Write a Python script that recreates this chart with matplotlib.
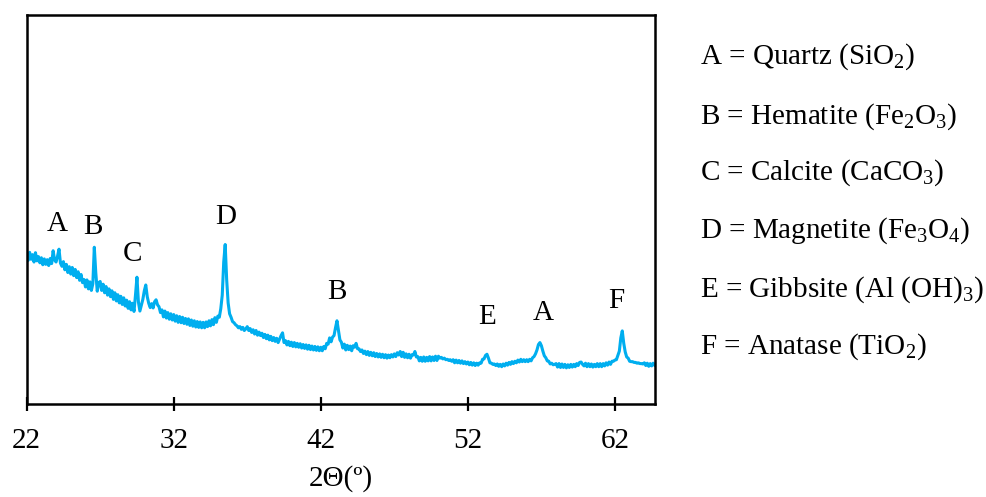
import numpy as np
import matplotlib
matplotlib.use("Agg")
import matplotlib.pyplot as plt

plt.rcParams['font.family'] = ['Liberation Serif', 'DejaVu Serif']
plt.rcParams['mathtext.fontset'] = 'custom'
plt.rcParams['mathtext.rm'] = 'Liberation Serif'
plt.rcParams['mathtext.it'] = 'Liberation Serif'

# 2-theta grid start / step (degrees) and intensity readings (a.u.), one row per degree
two_theta_start = 22.0
two_theta_step = 0.1
intensity = [
    38.8, 36.9, 39.0, 37.2, 38.4, 36.5, 38.9, 36.8, 37.9, 36.3,   # 22
    37.6, 35.8, 37.3, 35.9, 37.1, 35.6, 37.4, 36.1, 39.4, 37.0,   # 23
    36.5, 38.0, 39.8, 36.2, 35.4, 36.6, 34.5, 35.9, 33.8, 35.3,   # 24
    33.4, 35.1, 33.0, 34.6, 32.5, 34.0, 31.8, 33.3, 31.2, 32.0,   # 25
    30.1, 31.9, 29.6, 31.4, 29.2, 30.9, 40.3, 33.8, 29.0, 31.2,   # 26
    31.5, 29.2, 30.8, 28.6, 30.2, 28.0, 29.6, 27.6, 29.1, 26.9,   # 27
    28.6, 26.5, 28.1, 26.0, 27.7, 25.6, 27.3, 25.2, 26.7, 24.6,   # 28
    26.3, 24.2, 25.9, 23.8, 28.0, 32.6, 26.2, 23.9, 25.4, 26.9,   # 29
    29.1, 30.6, 27.6, 25.9, 24.8, 25.8, 24.7, 26.3, 26.8, 25.5,   # 30
    25.0, 23.5, 24.2, 22.4, 23.9, 22.1, 23.5, 21.8, 23.2, 21.6,   # 31
    23.0, 21.3, 22.7, 21.0, 22.5, 20.9, 22.3, 20.7, 22.0, 20.5,   # 32
    21.9, 20.2, 21.6, 20.0, 21.4, 19.8, 21.2, 19.7, 21.1, 19.6,   # 33
    21.0, 19.6, 21.1, 19.9, 21.4, 20.1, 21.7, 20.4, 22.2, 21.0,   # 34
    22.6, 22.3, 24.5, 28.0, 36.5, 41.0, 32.0, 26.0, 23.2, 22.3,   # 35
    21.2, 20.9, 20.4, 20.1, 19.6, 19.9, 19.2, 19.7, 18.9, 19.3,   # 36
    19.9, 18.9, 19.4, 18.4, 19.1, 18.0, 18.9, 17.7, 18.5, 17.6,   # 37
    18.2, 17.1, 17.9, 16.8, 17.7, 16.5, 17.4, 16.3, 17.1, 16.1,   # 38
    16.9, 15.8, 16.7, 17.6, 18.3, 15.8, 16.3, 15.2, 16.1, 15.0,   # 39
    15.9, 14.8, 15.8, 14.7, 15.6, 14.6, 15.5, 14.4, 15.3, 14.3,   # 40
    15.2, 14.1, 15.1, 14.0, 14.9, 13.9, 14.8, 13.8, 14.7, 13.7,   # 41
    14.6, 13.7, 14.8, 14.2, 15.6, 15.4, 17.0, 16.0, 17.2, 17.6,   # 42
    19.6, 21.4, 18.9, 16.5, 15.9, 14.4, 15.4, 13.9, 15.1, 14.0,   # 43
    14.9, 13.7, 15.0, 14.6, 15.6, 14.2, 14.2, 13.5, 13.9, 13.0,   # 44
    13.6, 12.7, 13.5, 12.5, 13.3, 12.4, 13.2, 12.2, 13.0, 12.1,   # 45
    12.9, 12.0, 12.8, 11.9, 12.7, 11.8, 12.6, 11.9, 12.7, 12.1,   # 46
    12.9, 12.2, 13.2, 12.6, 13.5, 12.2, 13.3, 12.0, 12.9, 11.9,   # 47
    12.8, 11.8, 12.7, 12.6, 13.5, 12.1, 12.2, 11.1, 12.0, 11.0,   # 48
    12.1, 11.0, 12.0, 11.1, 12.2, 11.1, 12.1, 11.2, 12.3, 11.2,   # 49
    12.3, 11.8, 12.0, 11.6, 11.8, 11.4, 11.5, 11.2, 11.4, 11.0,   # 50
    11.4, 10.6, 11.3, 10.6, 11.2, 10.5, 11.1, 10.4, 10.9, 10.3,   # 51
    10.8, 10.1, 10.7, 10.0, 10.6, 9.9, 10.5, 10.0, 10.6, 10.5,    # 52
    11.5, 11.6, 12.5, 12.8, 11.8, 10.6, 10.5, 10.2, 10.3, 9.9,    # 53
    10.3, 9.7, 10.2, 9.6, 10.3, 9.8, 10.5, 10.0, 10.7, 10.2,      # 54
    10.9, 10.4, 11.0, 10.6, 11.3, 10.8, 11.5, 10.9, 11.4, 10.9,   # 55
    11.4, 10.9, 11.5, 11.1, 11.9, 12.2, 12.9, 13.9, 15.3, 15.8,   # 56
    15.0, 13.6, 12.4, 11.9, 11.1, 11.0, 10.3, 10.5, 10.1, 10.2,   # 57
    10.4, 9.5, 10.4, 9.4, 10.3, 9.4, 10.2, 9.3, 10.1, 9.4,        # 58
    10.2, 9.5, 10.2, 9.6, 10.4, 9.9, 10.7, 10.8, 10.2, 9.8,       # 59
    10.5, 9.6, 10.4, 9.6, 10.3, 9.5, 10.2, 9.6, 10.4, 9.6,        # 60
    10.4, 9.6, 10.4, 9.8, 10.6, 10.0, 10.8, 10.2, 11.0, 11.0,     # 61
    11.3, 11.4, 12.5, 13.6, 17.0, 18.8, 15.6, 13.4, 12.1, 11.8,   # 62
    11.0, 10.9, 10.9, 10.7, 10.7, 10.5, 10.6, 10.4, 10.4, 10.3,   # 63
    10.6, 9.9, 10.5, 9.7, 10.4, 9.8, 10.5, 10.0,                  # 64
]

# peak labels
peak_letters = ['A', 'B', 'C', 'D', 'B', 'E', 'A', 'F']
peak_x = [24.1, 26.5, 29.2, 35.5, 43.1, 53.3, 57.1, 62.1]
peak_y = [46.2, 45.4, 38.5, 48.0, 28.7, 22.3, 23.3, 26.6]

legend_lines = [
    r'A = Quartz (SiO$_2$)',
    r'B = Hematite (Fe$_2$O$_3$)',
    r'C = Calcite (CaCO$_3$)',
    r'D = Magnetite (Fe$_3$O$_4$)',
    r'E = Gibbsite (Al (OH)$_3$)',
    r'F = Anatase (TiO$_2$)',
]

x_ticks = [22, 32, 42, 52, 62]

two_theta = two_theta_start + two_theta_step * np.arange(len(intensity))

fig = plt.figure(figsize=(9.87, 4.97), dpi=100)
ax = fig.add_axes([0.027, 0.187, 0.637, 0.783])
ax.plot(two_theta, intensity, color='#00AEEF', lw=2.2)
ax.set_xlim(22, 64.75)
ax.set_ylim(0, 100)
ax.set_yticks([])
ax.set_xticks(x_ticks)
ax.set_xticklabels([str(t) for t in x_ticks], fontsize=21)
ax.tick_params(axis='x', direction='inout', length=10, width=1.6, pad=12)
for s in ax.spines.values():
    s.set_linewidth(1.8)
ax.set_xlabel('2Θ(º)', fontsize=21, labelpad=8)

for t, x, y in zip(peak_letters, peak_x, peak_y):
    ax.text(x, y, t, fontsize=21, ha='center', va='center')

ys = [57, 117, 173, 231, 290, 347]
for line, yp in zip(legend_lines, ys):
    fig.text(700 / 987, 1 - yp / 497, line, fontsize=21, ha='left', va='center')

fig.savefig('out.png', dpi=100)
